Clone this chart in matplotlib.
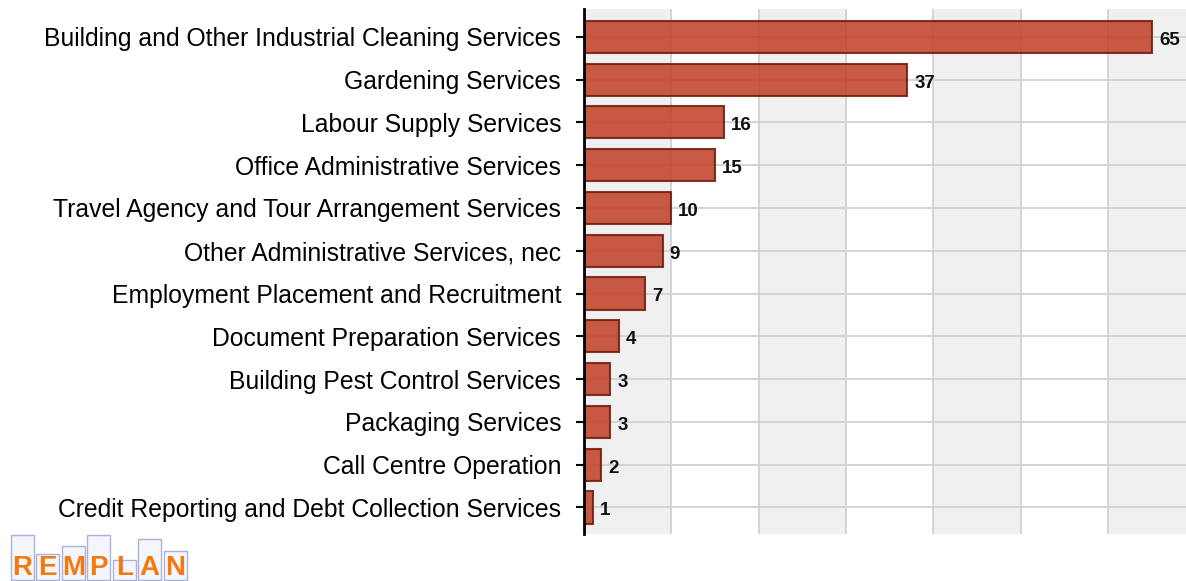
import matplotlib
matplotlib.use('Agg')
from matplotlib import pyplot as plt
from matplotlib.patches import Rectangle

categories = [
    "Building and Other Industrial Cleaning Services",
    "Gardening Services",
    "Labour Supply Services",
    "Office Administrative Services",
    "Travel Agency and Tour Arrangement Services",
    "Other Administrative Services, nec",
    "Employment Placement and Recruitment",
    "Document Preparation Services",
    "Building Pest Control Services",
    "Packaging Services",
    "Call Centre Operation",
    "Credit Reporting and Debt Collection Services",
]
values = [65, 37, 16, 15, 10, 9, 7, 4, 3, 3, 2, 1]
grid_ticks = [0, 10, 20, 30, 40, 50, 60]

plt.rcParams['font.family'] = ['Liberation Sans', 'DejaVu Sans']

fig = plt.figure(figsize=(11.86, 5.81), dpi=100)
ax = fig.add_axes([0.4924, 0.0809, 0.5076, 0.9036])

# alternating vertical bands
for i, t in enumerate(grid_ticks + [70]):
    if i % 2 == 0:
        ax.axvspan(t, t + 10, color='#f0f0f0', zorder=0, lw=0)

ax.grid(True, color='#d4d4d4', linewidth=1.4, zorder=1)
ax.set_axisbelow(True)

ypos = list(range(len(categories)))
ax.barh(ypos, values, height=0.75, color='#bf3f28', alpha=0.86,
        edgecolor='#6e1a0c', linewidth=1.5, zorder=2)

for y, v in zip(ypos, values):
    ax.text(v + 0.8, y + 0.08, str(v), va='center', ha='left',
            fontsize=13.5, fontweight='bold', color='#111111', zorder=4)

ax.set_xlim(0, 68.9)
ax.set_ylim(11.62, -0.65)
ax.set_yticks(ypos)
ax.set_yticklabels(categories, fontsize=17.8)
ax.set_xticks(grid_ticks)
ax.tick_params(axis='x', length=0, labelbottom=False)
ax.tick_params(axis='y', length=6, width=1.5, pad=10.5, color='black')

for s in ['top', 'right', 'bottom']:
    ax.spines[s].set_visible(False)
ax.spines['left'].set_linewidth(2)
ax.spines['left'].set_zorder(5)

# REMPLAN logo
letters = "REMPLAN"
box_tops = [0.078, 0.045, 0.058, 0.078, 0.035, 0.07, 0.05]
x0 = 0.008
w = 0.0215
for i, (ch, bt) in enumerate(zip(letters, box_tops)):
    fig.patches.append(Rectangle((x0 + i * w + 0.001, 0.002), w * 0.9, bt,
                                 transform=fig.transFigure, facecolor='#f4f6fc',
                                 edgecolor='#aab2dc', linewidth=1.0))
for i, ch in enumerate(letters):
    fig.text(x0 + i * w + w * 0.5, 0.0, ch, ha='center', va='bottom',
             fontsize=20, fontweight='bold', color='#f47a10')

fig.savefig('out.png', dpi=100)
